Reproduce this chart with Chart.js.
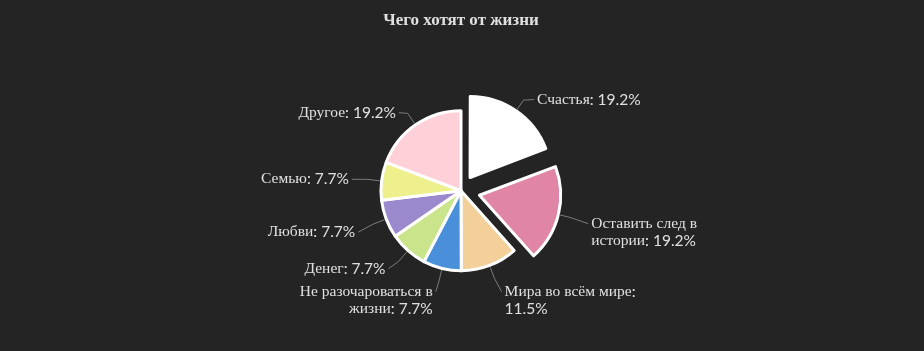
<!DOCTYPE html>
<html lang="ru">
<head>
<meta charset="utf-8">
<title>Чего хотят от жизни</title>
<script src="https://cdn.jsdelivr.net/npm/chart.js@4.4.1/dist/chart.umd.min.js"></script>
<style>
  html, body { margin: 0; padding: 0; background: #242424; }
  #wrap { width: 924px; height: 351px; }
</style>
</head>
<body>
<div id="wrap"><canvas id="pieChart" width="924" height="351"></canvas></div>
<script>
// answers, % of respondents (clockwise from 12 o'clock)
const categories = ['Счастья', 'Оставить след в истории', 'Мира во всём мире',
  'Не разочароваться в жизни', 'Денег', 'Любви', 'Семью', 'Другое'];
const shares = [19.2, 19.2, 11.5, 7.7, 7.7, 7.7, 7.7, 19.2];
const sliceColors = ['#ffffff', '#e085a6', '#f3d09a', '#4a8fd9',
  '#c9e48b', '#9a89cc', '#eef08d', '#ffd0d8'];

const fontSize = 15.5;
const latinFont = fontSize + 'px Lato';
const cyrFont = fontSize + 'px "Liberation Serif"';

// cyrillic glyphs fall back to a serif face, the rest stays in Lato
function runs(text) {
  const out = [];
  for (const ch of text) {
    const cyr = /[\u0400-\u04FF]/.test(ch);
    if (out.length && out[out.length - 1].cyr === cyr) out[out.length - 1].t += ch;
    else out.push({ t: ch, cyr });
  }
  return out;
}

function textWidth(ctx, text) {
  let w = 0;
  runs(text).forEach((r) => {
    ctx.font = r.cyr ? cyrFont : latinFont;
    w += ctx.measureText(r.t).width;
  });
  return w;
}

function drawText(ctx, text, x, y, align) {
  let cx = align === 'right' ? x - textWidth(ctx, text) : x;
  ctx.textAlign = 'left';
  runs(text).forEach((r) => {
    ctx.font = r.cyr ? cyrFont : latinFont;
    ctx.fillText(r.t, cx, y);
    cx += ctx.measureText(r.t).width;
  });
}

function wrap(ctx, text, maxW) {
  const words = text.split(' ');
  const lines = [];
  let cur = '';
  words.forEach((w) => {
    const test = cur ? cur + ' ' + w : w;
    if (cur && textWidth(ctx, test) > maxW) {
      lines.push(cur);
      cur = w;
    } else {
      cur = test;
    }
  });
  if (cur) lines.push(cur);
  return lines;
}

const labelDistance = 30;
const lineHeight = 17;

const outsideLabels = {
  id: 'outsideLabels',
  afterDatasetsDraw(chart) {
    const ctx = chart.ctx;
    const meta = chart.getDatasetMeta(0);
    const values = chart.data.datasets[0].data;

    const items = meta.data.map((arc, i) => {
      const p = arc.getProps(['x', 'y', 'startAngle', 'endAngle', 'outerRadius'], true);
      const shift = (arc.options.offset || 0) / 4;
      const mid = (p.startAngle + p.endAngle) / 2;
      const cos = Math.cos(mid);
      const sin = Math.sin(mid);
      const r = p.outerRadius + 1;
      const ny = p.y + sin * (r + labelDistance);
      const lines = wrap(ctx, chart.data.labels[i] + ': ' + values[i] + '%', 150);
      return {
        p, r, shift, cos, sin, lines, ny, y: ny,
        nx: p.x + cos * (r + labelDistance),
        right: cos >= 0,
        h: lines.length * lineHeight + 6,
      };
    });

    // label box spans [y - 10, y - 10 + h]; keep boxes apart on each side
    const c = items[0].p;
    const topLimit = c.y - items[0].r - 9;
    const bottomLimit = c.y + items[0].r + 48;
    [true, false].forEach((side) => {
      const list = items.filter((it) => it.right === side).sort((a, b) => a.ny - b.ny);
      let prevBottom = topLimit;
      list.forEach((it) => {
        if (it.y - 10 < prevBottom) it.y = prevBottom + 10;
        prevBottom = it.y - 10 + it.h;
      });
      let nextTop = bottomLimit;
      for (let k = list.length - 1; k >= 0; k--) {
        const it = list[k];
        if (it.y - 10 + it.h > nextTop) it.y = nextTop - it.h + 10;
        nextTop = it.y - 10;
      }
    });

    items.forEach((it) => {
      const { p, cos, sin, shift, right } = it;
      const edge = it.r + shift;
      const ly = it.y + sin * shift + 2;
      const lx = it.nx + cos * shift;
      const tx = right ? lx + 4 : lx - 2;

      ctx.save();
      ctx.strokeStyle = '#7c7c7c';
      ctx.lineWidth = 1;
      ctx.beginPath();
      ctx.moveTo(p.x + cos * (edge + 1), p.y + sin * (edge + 1));
      ctx.lineTo(p.x + cos * (edge + 13), p.y + sin * (edge + 13));
      ctx.lineTo(right ? tx - 3 : tx + 3, ly);
      ctx.stroke();

      ctx.fillStyle = '#e0e0e0';
      ctx.textBaseline = 'middle';
      it.lines.forEach((line, k) => {
        drawText(ctx, line, tx, ly + k * lineHeight, right ? 'left' : 'right');
      });
      ctx.restore();
    });
  }
};

const ctx = document.getElementById('pieChart').getContext('2d');
const pieChart = new Chart(ctx, {
  type: 'pie',
  data: {
    labels: categories,
    datasets: [{
      data: shares,
      backgroundColor: sliceColors,
      borderColor: '#ffffff',
      borderWidth: 3,
      borderJoinStyle: 'round',
      radius: 80,
      offset: [64, 76, 0, 0, 0, 0, 0, 0],
    }],
  },
  options: {
    responsive: false,
    devicePixelRatio: 1,
    animation: false,
    layout: { padding: { left: 0, right: 2, top: 0, bottom: 10 } },
    plugins: {
      legend: { display: false },
      tooltip: { enabled: false },
      title: {
        display: true,
        text: 'Чего хотят от жизни',
        color: '#e0e0e0',
        font: { family: '"Liberation Serif", serif', size: 17, weight: 'bold' },
        padding: { top: 10, bottom: 10 },
      },
    },
  },
  plugins: [outsideLabels],
});
</script>
</body>
</html>
